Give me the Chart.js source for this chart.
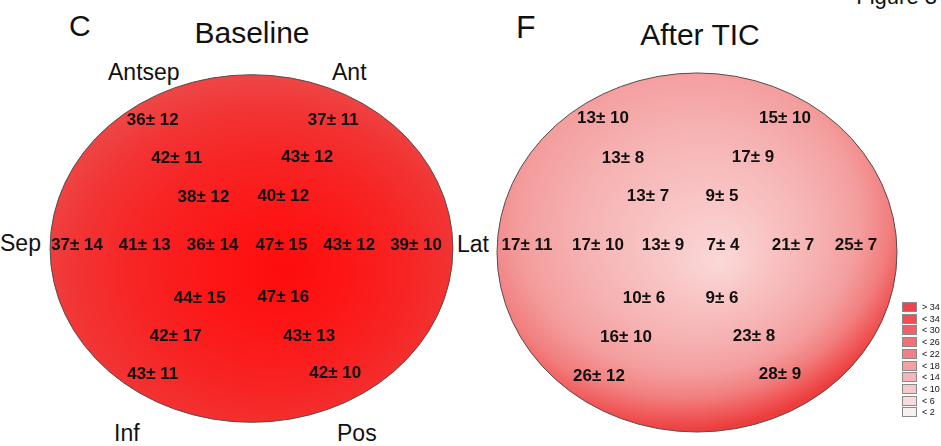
<!DOCTYPE html>
<html><head><meta charset="utf-8">
<script src="https://cdn.jsdelivr.net/npm/chart.js@4.4.1/dist/chart.umd.min.js"></script>
<style>
html,body{margin:0;padding:0;background:#fff;width:941px;height:446px;overflow:hidden;}
body{position:relative;font-family:"Liberation Sans",Arial,Helvetica,sans-serif;}
.t{position:absolute;white-space:nowrap;color:#111;line-height:1;}
canvas{position:absolute;}
#legend{position:absolute;left:902px;top:302px;}
.lg{position:absolute;left:0;width:15px;height:10px;box-sizing:border-box;border:1px solid #8a8a8a;}
.lt{position:absolute;left:20px;font-size:9px;line-height:10px;color:#111;white-space:nowrap;}
</style></head><body>
<div class="t" style="left:69px;top:10.6px;font-size:30px">C</div>
<div class="t" style="left:252px;top:17.6px;font-size:30px;transform:translateX(-50%)">Baseline</div>
<div class="t" style="left:516px;top:11px;font-size:32px">F</div>
<div class="t" style="left:700px;top:19.6px;font-size:30px;transform:translateX(-50%)">After TIC</div>
<div class="t" style="right:4px;top:-13.6px;font-size:22px">Figure 3</div>
<div class="t" style="left:108px;top:60.6px;font-size:23px">Antsep</div>
<div class="t" style="left:332px;top:60.6px;font-size:23px">Ant</div>
<div class="t" style="left:0px;top:231.6px;font-size:23px">Sep</div>
<div class="t" style="left:457px;top:232.6px;font-size:23px">Lat</div>
<div class="t" style="left:114px;top:421.6px;font-size:23px">Inf</div>
<div class="t" style="left:337px;top:421.6px;font-size:23px">Pos</div>
<canvas id="mapBase"></canvas>
<canvas id="mapAfter"></canvas>
<div id="legend"></div>
<script>
// ---- data ----
const segments = ['outer-antsep','outer-ant','mid-antsep','mid-ant','inner-antsep','inner-ant',
  'outer-sep','mid-sep','inner-sep','inner-lat','mid-lat','outer-lat',
  'inner-inf','inner-pos','mid-inf','mid-pos','outer-inf','outer-pos'];
const baselineMean = [36,37,42,43,38,40, 37,41,36,47,43,39, 44,47,42,43,43,42];
const baselineSD   = [12,11,11,12,12,12, 14,13,14,15,12,10, 15,16,17,13,11,10];
const afterMean    = [13,15,13,17,13,9, 17,17,13,7,21,25, 10,9,16,23,26,28];
const afterSD      = [10,10,8,9,7,5, 11,10,9,4,7,7, 6,6,10,8,12,9];
const legendLabels = ['> 34','< 34','< 30','< 26','< 22','< 18','< 14','< 10','< 6','< 2'];
const legendColors = ['#ee4450','#ef5058','#f06068','#f27078','#f28088','#f3a0a4','#f5b5b8','#f6c8ca','#f8dcdd','#f6f0f0'];

// ---- layout (unit-ellipse coordinates of each segment label) ----
const basePosX = [-0.490,0.406,-0.371,0.277,-0.238,0.158, -0.866,-0.530,-0.193,0.149,0.485,0.817, -0.257,0.158,-0.376,0.287,-0.490,0.416];
const basePosY = [0.743,0.743,0.520,0.526,0.297,0.303, 0.023,0.023,0.023,0.023,0.023,0.023, -0.286,-0.280,-0.503,-0.503,-0.720,-0.714];
const afterPosX = [-0.470,0.440,-0.370,0.280,-0.245,0.125, -0.850,-0.495,-0.170,0.130,0.480,0.795, -0.265,0.125,-0.355,0.285,-0.490,0.415];
const afterPosY = [0.749,0.749,0.526,0.532,0.315,0.315, 0.042,0.042,0.042,0.042,0.042,0.042, -0.253,-0.253,-0.471,-0.465,-0.688,-0.677];

const EXT = 1.05;
const bullseye = (grad) => ({
  id:'bullseye',
  beforeDatasetsDraw(chart){
    const {ctx, scales:{x, y}} = chart;
    const cx = x.getPixelForValue(0), cy = y.getPixelForValue(0);
    const rx = x.getPixelForValue(1) - cx, ry = cy - y.getPixelForValue(1);
    ctx.save();
    ctx.translate(cx, cy); ctx.scale(rx, ry);
    const g = ctx.createRadialGradient(grad.inner[0], grad.inner[1], 0, grad.outer[0], grad.outer[1], grad.outer[2]);
    grad.stops.forEach(s => g.addColorStop(s[0], s[1]));
    ctx.beginPath(); ctx.arc(0, 0, 1, 0, Math.PI*2); ctx.fillStyle = g; ctx.fill();
    ctx.restore();
    ctx.save();
    ctx.beginPath(); ctx.ellipse(cx, cy, rx, ry, 0, 0, Math.PI*2);
    ctx.lineWidth = 1; ctx.strokeStyle = '#5a4a4a'; ctx.stroke();
    ctx.restore();
  },
  afterDatasetsDraw(chart){
    const {ctx} = chart;
    const meta = chart.getDatasetMeta(0);
    ctx.save();
    ctx.font = 'bold 17px "Liberation Sans", Arial, sans-serif';
    ctx.fillStyle = '#111';
    ctx.textAlign = 'center'; ctx.textBaseline = 'middle';
    meta.data.forEach((pt, i) => {
      const d = chart.data.datasets[0].data[i];
      ctx.fillText(d.label, pt.x, pt.y + 0.5);
    });
    ctx.restore();
  }
});

function makeMap(id, cxPage, cyPage, rx, ry, means, sds, px, py, grad){
  const cv = document.getElementById(id);
  const w = Math.round(2*EXT*rx), h = Math.round(2*EXT*ry);
  cv.width = w; cv.height = h;
  cv.style.width = w + 'px'; cv.style.height = h + 'px';
  cv.style.left = (cxPage - w/2) + 'px'; cv.style.top = (cyPage - h/2) + 'px';
  const data = means.map((m, i) => ({x: px[i], y: py[i], label: m + '\u00b1 ' + sds[i]}));
  new Chart(cv, {
    type:'scatter',
    data:{datasets:[{data, pointRadius:0, pointHoverRadius:0}]},
    options:{
      responsive:false, animation:false, events:[], devicePixelRatio:1,
      layout:{padding:0},
      plugins:{legend:{display:false}, tooltip:{enabled:false}, title:{display:false}},
      scales:{
        x:{type:'linear', min:-EXT, max:EXT, display:false},
        y:{type:'linear', min:-EXT, max:EXT, display:false}
      }
    },
    plugins:[bullseye(grad)]
  });
}

makeMap('mapBase', 251.5, 248, 201.5, 174, baselineMean, baselineSD, basePosX, basePosY, {
  inner:[0.17, 0.13], outer:[0.05, 0.15, 1.12],
  stops:[[0,'#ff0c0c'],[0.3,'#fd1616'],[0.6,'#f72424'],[0.85,'#f23434'],[1,'#ee4444']]
});
makeMap('mapAfter', 697, 252.5, 200, 179.5, afterMean, afterSD, afterPosX, afterPosY, {
  inner:[0.12, 0.06], outer:[-0.12, -0.3, 1.3],
  stops:[[0,'#fbd8d8'],[0.2,'#f9c6c6'],[0.45,'#f6b2b2'],[0.65,'#f49e9e'],[0.8,'#f27e7e'],[0.9,'#f05c5c'],[1,'#ec3c3c']]
});

const lg = document.getElementById('legend');
legendLabels.forEach((lab, i) => {
  const top = i*11.7;
  const b = document.createElement('div'); b.className='lg'; b.style.top = top+'px'; b.style.background = legendColors[i];
  const t = document.createElement('div'); t.className='lt'; t.style.top = top+'px'; t.textContent = lab;
  lg.appendChild(b); lg.appendChild(t);
});
</script>
</body></html>
